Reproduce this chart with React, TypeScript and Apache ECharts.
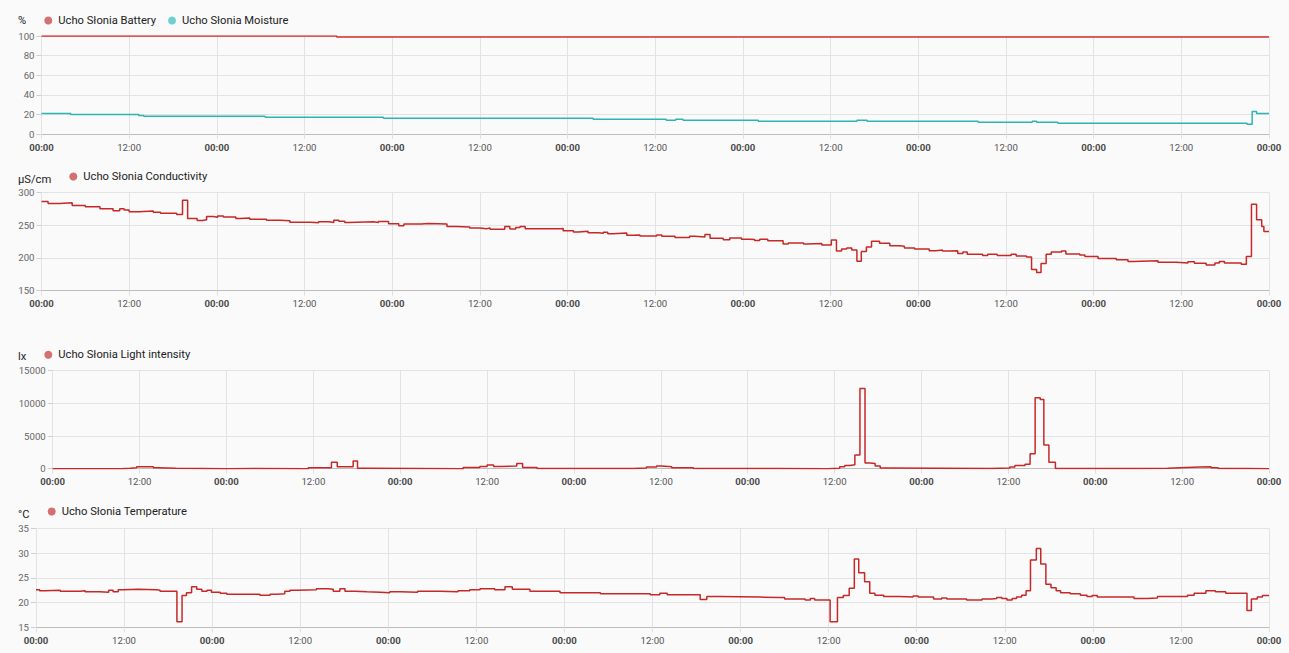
import React, { useEffect, useRef } from "react";
import * as echarts from "echarts";

// ---- Data (hours since start of the 7-day window) ----
const xTickHours = [0, 12, 24, 36, 48, 60, 72, 84, 96, 108, 120, 132, 144, 156, 168];

const batteryHours = [0, 40.4, 168];
const batteryValues = [100, 99, 99];

const moistureHours = [0, 4, 13.3, 14, 30.6, 46.8, 75.5, 85.5, 86.8, 87.8, 98.1, 111.6, 113, 128.2, 135.6, 136.2, 139.1, 165, 165.7, 166.3, 168];
const moistureValues = [21, 20, 19, 18, 17, 16, 15, 14, 15, 14, 13, 14, 13, 12, 13, 12, 11, 10, 23, 21, 21];

const conductivityHours = [0, 0.9, 2.5, 4.2, 6, 8, 9.8, 10.7, 11.3, 12, 13.3, 15.3, 16.3, 18.5, 19.3, 20, 21.3, 22, 22.6, 23.5, 24.1, 24.9, 26.6, 27.2, 28.5, 30.8, 32.6, 34, 36.8, 37.9, 39.3, 40, 40.7, 41.5, 42, 45.4, 46.1, 47.5, 48.9, 49.6, 52, 52.9, 55.5, 56.8, 58.6, 60, 60.9, 61.4, 63.4, 64.1, 64.9, 65.5, 66.2, 71, 71.4, 72.8, 73.5, 74.8, 76.2, 76.9, 77.5, 78.2, 80.1, 81, 81.9, 84.2, 84.9, 86.7, 88.7, 89.4, 90.8, 91.5, 93.3, 94.2, 95.8, 96.9, 97.6, 98.3, 99.4, 101.5, 102.2, 104.3, 104.8, 106.8, 108.1, 108.8, 109.5, 110.2, 110.9, 111.6, 112.2, 112.9, 113.6, 114.7, 116.1, 117.4, 118.1, 119.5, 121.5, 122.4, 123.3, 124.2, 125.4, 126.1, 126.7, 128.8, 129.5, 130.8, 132.7, 133.4, 134.8, 135.5, 136.2, 136.8, 137.5, 138.2, 139.6, 140.2, 142.1, 142.8, 144.6, 147.1, 148.7, 149.4, 152.8, 155.3, 156.9, 157.8, 159.4, 160.6, 161.2, 161.9, 164.2, 164.9, 165.6, 166.3, 167, 167.3, 168];
const conductivityValues = [286, 283, 284, 280, 278, 275, 272, 275, 273, 270.5, 271.5, 269.5, 268, 266, 288, 260, 257, 258, 263, 262, 264, 262.5, 260, 261, 259, 257.5, 256.5, 254.5, 253.5, 255, 254, 257.5, 256, 254, 255, 254, 255.5, 252, 249, 251.5, 252.5, 251.5, 248, 247, 245.5, 244.5, 245.5, 243.5, 248, 244, 246.5, 248, 244.5, 245, 241.5, 239.5, 240.5, 238.5, 237.5, 239, 237, 238, 234.5, 235, 233.5, 235, 233, 231, 233, 232, 235.5, 230, 227.5, 230.5, 228.5, 228, 226.5, 228.5, 226, 221, 222.7, 221, 222, 219.7, 227.3, 210.6, 213.6, 215, 212, 195, 209.6, 216.7, 225.3, 222.2, 218.7, 217.7, 215, 213.6, 211, 212, 210.6, 211, 206.6, 209, 205.6, 203.5, 205.6, 203.5, 205.6, 203, 201.5, 182.3, 177.8, 191.4, 205.6, 209, 210.6, 206, 204.5, 202, 199, 197, 194.5, 195.5, 193.4, 192.4, 194, 192, 189, 192.4, 194.5, 192.4, 190.4, 202, 281.8, 258, 248, 240.4, 240.4];

const lightHours = [0, 9.5, 10.7, 11.6, 13.9, 14.6, 17, 24, 28, 35.3, 38.5, 39.3, 41.5, 42.1, 43.4, 56.7, 59, 60, 60.9, 62, 64.1, 64.9, 66.9, 80.2, 82, 83.4, 84.1, 85.5, 88.5, 100, 107, 108.7, 109.4, 110.1, 110.8, 111.5, 112.2, 112.9, 113.6, 114.3, 115, 129.5, 132.2, 132.9, 134.3, 135, 135.7, 136.4, 136.9, 137.6, 138.5, 150, 154, 155.7, 158.5, 160, 161, 165, 168];
const lightValues = [10, 60, 150, 300, 150, 50, 10, 30, 10, 150, 980, 300, 1180, 50, 10, 200, 350, 550, 350, 400, 800, 200, 20, 100, 250, 400, 300, 150, 30, 10, 50, 300, 500, 600, 2100, 12270, 860, 800, 400, 100, 20, 100, 250, 500, 700, 2300, 10860, 10600, 3640, 1000, 20, 60, 150, 250, 300, 150, 40, 10, 10];

const temperatureHours = [0, 0.5, 1.2, 3.3, 6, 6.7, 8.7, 9.9, 10.5, 11.2, 11.9, 13.9, 16.4, 16.9, 19.2, 19.9, 20.5, 21.2, 21.9, 22.6, 23.3, 23.9, 25.1, 26, 30.5, 31.9, 32.8, 33.9, 34.6, 35.5, 38.2, 39.8, 40.5, 41.4, 42.1, 43.5, 45.1, 46.9, 48.2, 49.6, 52, 55, 57.5, 59.1, 60.5, 62.5, 63.9, 64.9, 67.3, 71.4, 76.9, 83.7, 85, 86, 90.5, 91.4, 93.2, 98.6, 101.4, 102, 104.8, 105.5, 106.1, 108.2, 109.2, 110, 110.8, 111.5, 112.1, 112.9, 113.6, 114.3, 115.5, 117.7, 119.5, 120.2, 122.3, 123.4, 124.1, 126.8, 128.9, 130.2, 130.9, 131.6, 132.3, 133, 133.6, 134.3, 134.9, 135.5, 136.3, 136.9, 137.6, 138.3, 139, 139.6, 140.9, 142.3, 143.2, 143.9, 144.6, 149.6, 151.4, 152.8, 156.9, 157.8, 159.4, 160.7, 162.1, 165, 165.6, 166.4, 167.1, 168];
const temperatureValues = [22.6, 22.4, 22.5, 22.3, 22.4, 22.2, 22.1, 22.5, 22.2, 22.6, 22.7, 22.6, 22.5, 22.3, 16.1, 21.4, 22, 23.2, 22.7, 22.3, 22.5, 22.1, 21.9, 21.7, 21.5, 21.7, 21.8, 22.3, 22.5, 22.6, 22.8, 22.7, 22.3, 22.8, 22.3, 22.2, 22.1, 22, 22.2, 22.1, 22.3, 22.2, 22.4, 22.6, 22.8, 22.6, 23.2, 22.7, 22.3, 22, 21.8, 21.6, 21.9, 21.6, 20.6, 21.2, 21.1, 21, 21, 20.7, 20.5, 20.8, 20.5, 16.1, 21, 21.4, 22.9, 28.8, 26, 24.2, 21.9, 21.5, 21.2, 21.1, 21.3, 21.1, 20.7, 20.9, 20.7, 20.5, 20.7, 20.8, 21, 20.8, 20.5, 20.8, 21.1, 21.5, 22.4, 28.6, 30.9, 27.8, 23.7, 23, 22.4, 22, 21.8, 21.5, 21.2, 21.4, 21.1, 20.8, 20.9, 21.2, 21.5, 21.9, 22.4, 22.2, 21.9, 18.4, 20.7, 21.1, 21.4, 21.4];

const panelUnits = ["%", "μS/cm", "lx", "°C"];
const yMins = [0, 150, 0, 15];
const yMaxs = [100, 300, 15000, 35];
const yIntervals = [20, 50, 5000, 5];

const NAMES = {
  battery: "Ucho Słonia Battery",
  moisture: "Ucho Słonia Moisture",
  conductivity: "Ucho Słonia Conductivity",
  light: "Ucho Słonia Light intensity",
  temperature: "Ucho Słonia Temperature",
};

const zip = (h: number[], v: number[]) => h.map((x, i) => [x, v[i]]);

const FONT = "Roboto";
const RED = "#c62828";
const RED_LIGHT = "#d47070";
const TEAL = "#2db5b5";
const TEAL_LIGHT = "#6fcfcf";

// layout (page pixels)
const grids = [
  { left: 41.5, top: 36, height: 98 },
  { left: 41.5, top: 192.3, height: 98.4 },
  { left: 52.7, top: 370.7, height: 98 },
  { left: 36, top: 528.3, height: 99 },
];
const RIGHT_EDGE = 1269;
const unitPos = [
  { x: 18, y: 20.5 },
  { x: 18, y: 179 },
  { x: 18, y: 356 },
  { x: 18, y: 514 },
];
const legendPos = [
  { x: 44.3, y: 20 },
  { x: 69.3, y: 176 },
  { x: 44.3, y: 354.3 },
  { x: 47.7, y: 511 },
];

export default function App() {
  const ref = useRef<HTMLDivElement>(null);
  useEffect(() => {
    if (!ref.current) return;
    const chart = echarts.init(ref.current, undefined, { renderer: "svg" });

    const xAxes = grids.map((_, i) => ({
      type: "value",
      gridIndex: i,
      min: xTickHours[0],
      max: xTickHours[xTickHours.length - 1],
      interval: 12,
      axisLine: { show: true, lineStyle: { color: "#bdbdbd", width: 1 } },
      axisTick: { show: true, length: 5, lineStyle: { color: "#e0e0e0" } },
      splitLine: { show: true, lineStyle: { color: "#e3e3e3" } },
      axisLabel: {
        show: true,
        margin: 8,
        fontSize: 9.6,
        fontFamily: FONT,
        color: "#555",
        showMinLabel: true,
        showMaxLabel: true,
        formatter: (v: number) => (v % 24 === 0 ? "{b|00:00}" : "12:00"),
        rich: {
          b: { fontSize: 9.6, fontFamily: FONT, fontWeight: "bold", color: "#4a4a4a" },
        },
      },
    }));

    const yAxes = grids.map((_, i) => ({
      type: "value",
      gridIndex: i,
      min: yMins[i],
      max: yMaxs[i],
      interval: yIntervals[i],
      axisLine: { show: false },
      axisTick: { show: true, length: 5, lineStyle: { color: "#cfcfcf" } },
      splitLine: { show: true, lineStyle: { color: "#e3e3e3" } },
      axisLabel: {
        margin: 7,
        fontSize: 9.6,
        fontFamily: FONT,
        color: "#666",
        formatter: (v: number) => String(v),
      },
    }));

    const mkSeries = (name: string, h: number[], v: number[], idx: number, color: string) => ({
      name,
      type: "line",
      xAxisIndex: idx,
      yAxisIndex: idx,
      step: "end",
      data: zip(h, v),
      showSymbol: false,
      symbol: "none",
      lineStyle: { color, width: 1.5 },
      itemStyle: { color },
    });

    const mkLegend = (i: number, items: { name: string; color: string }[]) => ({
      left: legendPos[i].x,
      top: legendPos[i].y - 5,
      padding: 0,
      icon: "circle",
      itemWidth: 8,
      itemHeight: 8,
      itemGap: 12,
      selectedMode: false,
      textStyle: { fontSize: 11.2, fontFamily: FONT, color: "#212121", padding: [0, 0, 0, 1] },
      data: items.map((it) => ({ name: it.name, itemStyle: { color: it.color } })),
    });

    chart.setOption({
      animation: false,
      backgroundColor: "#fafafa",
      grid: grids.map((g) => ({
        left: g.left,
        top: g.top,
        width: RIGHT_EDGE - g.left,
        height: g.height,
        containLabel: false,
        outerBoundsMode: "none",
      })),
      legend: [
        mkLegend(0, [
          { name: NAMES.battery, color: RED_LIGHT },
          { name: NAMES.moisture, color: TEAL_LIGHT },
        ]),
        mkLegend(1, [{ name: NAMES.conductivity, color: RED_LIGHT }]),
        mkLegend(2, [{ name: NAMES.light, color: RED_LIGHT }]),
        mkLegend(3, [{ name: NAMES.temperature, color: RED_LIGHT }]),
      ],
      graphic: panelUnits.map((u, i) => ({
        type: "text",
        x: unitPos[i].x,
        y: unitPos[i].y,
        silent: true,
        style: {
          text: u,
          fontSize: 11.2,
          fontFamily: FONT,
          fill: "#212121",
          verticalAlign: "middle",
          align: "left",
        },
      })),
      xAxis: xAxes,
      yAxis: yAxes,
      series: [
        mkSeries(NAMES.battery, batteryHours, batteryValues, 0, "#d32f2f"),
        mkSeries(NAMES.moisture, moistureHours, moistureValues, 0, TEAL),
        mkSeries(NAMES.conductivity, conductivityHours, conductivityValues, 1, RED),
        mkSeries(NAMES.light, lightHours, lightValues, 2, RED),
        mkSeries(NAMES.temperature, temperatureHours, temperatureValues, 3, RED),
      ],
    });

    return () => chart.dispose();
  }, []);

  return (
    <div
      ref={ref}
      style={{ position: "absolute", left: 0, top: 0, width: "1289px", height: "653px" }}
    />
  );
}
